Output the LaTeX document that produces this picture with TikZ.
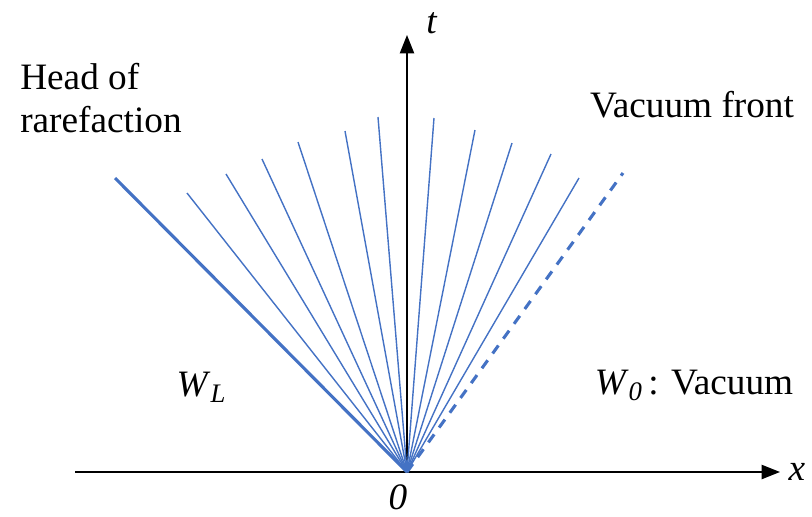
\documentclass[tikz,border=0pt]{standalone}
\usepackage{fontspec}
\setmainfont{Liberation Serif}
\usepackage{tikz}
\usetikzlibrary{arrows.meta, positioning}
\definecolor{fanblue}{HTML}{4472C4}

\begin{document}
\begin{tikzpicture}[
  x=0.025cm, y=-0.025cm,
  axis/.style={line width=1.4pt, -{Triangle[length=13pt, width=10pt]}},
  fan/.style={fanblue, line width=1pt},
  head/.style={fanblue, line width=2.2pt},
  front/.style={fanblue, line width=2.2pt, dash pattern=on 7pt off 6pt},
  lbl/.style={font=\fontsize{26.5}{31}\selectfont, inner sep=0pt}
]
  \useasboundingbox (0,0) rectangle (812,516);
  \coordinate (O) at (407,472);
  \coordinate (xl) at (75,472);
  \coordinate (xr) at (780,472);
  \coordinate (tt) at (407,35);
  % axes
  \draw[axis] (xl) -- (xr);
  \draw[axis] (O) -- (tt);
  % fan
  \foreach \px/\py [count=\i] in {187/193, 226/174, 262/159, 298/142, 345/131,
      378/117, 434/118, 475/130, 512/143, 551/154, 579/178} {
    \coordinate (f\i) at (\px,\py);
    \draw[fan] (O) -- (f\i);
  }
  \coordinate (hd) at (115,178);
  \coordinate (vf) at (623,173);
  \draw[head] (O) -- (hd);
  \draw[front] (O) -- (vf);
  % labels
  \node[lbl] (lx) at (797,472) {\textit{x}};
  \node[lbl] (lt) at (432,23) {\textit{t}};
  \node[lbl] (l0) at (398,497) {\textit{0}};
  \node[lbl, anchor=west, align=left] (lhead) at (20,98) {Head of\\rarefaction};
  \node[lbl] (lvf) at (692,105) {Vacuum front};
  \node[lbl] (lwl) at (201,387) {\textit{W}\raisebox{-0.35ex}{\fontsize{19}{19}\selectfont\textit{L}}};
  \node[lbl] (lw0) at (694,385) {\textit{W}\raisebox{-0.35ex}{\fontsize{19}{19}\selectfont\textit{0}}\,: Vacuum};
\end{tikzpicture}
\end{document}
